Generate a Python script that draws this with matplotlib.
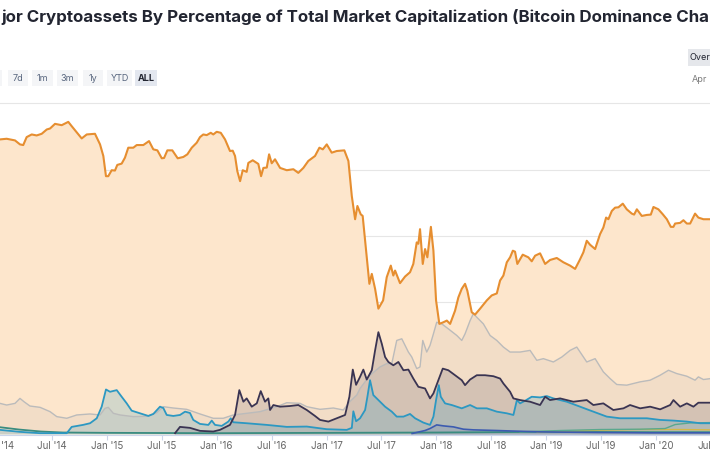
import numpy as np
import matplotlib.pyplot as plt
from matplotlib.patches import Rectangle
from matplotlib.transforms import ScaledTranslation

plt.rcParams['font.family'] = ['Inter', 'DejaVu Sans']

# dominance in % of total market cap, x in decimal years
btc_t = [2014.027, 2014.088, 2014.164, 2014.209, 2014.239, 2014.270, 2014.316, 2014.361, 2014.407, 2014.453,
         2014.483, 2014.528, 2014.589, 2014.649, 2014.680, 2014.771, 2014.817, 2014.892, 2014.938, 2014.968,
         2014.992, 2015.013, 2015.044, 2015.074, 2015.095, 2015.135, 2015.165, 2015.195, 2015.241, 2015.272,
         2015.332, 2015.384, 2015.423, 2015.460, 2015.500, 2015.521, 2015.551, 2015.596, 2015.645, 2015.696,
         2015.733, 2015.773, 2015.818, 2015.848, 2015.878, 2015.909, 2015.946, 2015.969, 2016.000, 2016.037,
         2016.076, 2016.121, 2016.146, 2016.167, 2016.188, 2016.213, 2016.237, 2016.273, 2016.288, 2016.328,
         2016.379, 2016.404, 2016.425, 2016.456, 2016.477, 2016.501, 2016.531, 2016.577, 2016.638, 2016.698,
         2016.743, 2016.789, 2016.834, 2016.895, 2016.935, 2016.966, 2017.002, 2017.047, 2017.093, 2017.162,
         2017.199, 2017.230, 2017.260, 2017.281, 2017.311, 2017.329, 2017.366, 2017.390, 2017.412, 2017.442,
         2017.472, 2017.515, 2017.548, 2017.585, 2017.608, 2017.624, 2017.669, 2017.715, 2017.760, 2017.790,
         2017.821, 2017.836, 2017.851, 2017.876, 2017.897, 2017.918, 2017.950, 2017.973, 2017.997, 2018.027,
         2018.064, 2018.095, 2018.125, 2018.170, 2018.200, 2018.231, 2018.261, 2018.282, 2018.322, 2018.352,
         2018.398, 2018.459, 2018.504, 2018.550, 2018.580, 2018.610, 2018.641, 2018.671, 2018.696, 2018.716,
         2018.737, 2018.786, 2018.837, 2018.868, 2018.899, 2018.944, 2018.990, 2019.035, 2019.096, 2019.156,
         2019.217, 2019.263, 2019.302, 2019.338, 2019.369, 2019.399, 2019.445, 2019.490, 2019.520, 2019.545,
         2019.566, 2019.597, 2019.627, 2019.657, 2019.697, 2019.733, 2019.779, 2019.800, 2019.825, 2019.870,
         2019.916, 2019.952, 2019.976, 2020.021, 2020.061, 2020.098, 2020.134, 2020.158, 2020.173, 2020.219,
         2020.249, 2020.280, 2020.310, 2020.355, 2020.385, 2020.431, 2020.500]
btc_v = [89.1, 89.3, 88.8, 87.6, 87.4, 89.8, 90.6, 90.3, 90.8, 92.1,
         92.4, 93.8, 93.4, 94.4, 93.1, 89.4, 90.6, 90.8, 87.6, 84.1,
         78.0, 78.0, 79.8, 79.7, 81.4, 81.8, 83.6, 86.6, 86.6, 87.4,
         87.4, 88.6, 86.1, 85.8, 83.4, 83.5, 85.8, 85.8, 83.4, 83.8,
         84.6, 86.6, 88.1, 89.8, 90.6, 90.4, 91.1, 90.6, 91.4, 91.1,
         89.1, 85.6, 85.7, 84.1, 79.5, 76.5, 79.8, 79.3, 82.0, 82.8,
         81.7, 78.0, 80.5, 80.6, 84.6, 81.9, 83.1, 80.5, 79.8, 80.1,
         79.0, 80.5, 82.6, 84.1, 86.6, 86.1, 87.6, 85.1, 85.6, 85.8,
         82.6, 72.0, 65.0, 69.0, 66.5, 66.0, 53.5, 45.5, 48.5, 44.0,
         38.0, 40.5, 47.5, 51.0, 48.0, 49.5, 45.7, 47.7, 49.0, 51.5,
         58.0, 57.6, 62.0, 51.5, 56.0, 53.5, 62.7, 55.5, 40.5, 33.4,
         33.9, 34.4, 33.4, 37.4, 41.4, 44.0, 45.5, 43.4, 36.9, 36.2,
         38.0, 40.5, 42.0, 42.6, 46.5, 48.0, 52.0, 53.5, 55.5, 55.2,
         51.5, 54.3, 53.5, 52.3, 54.0, 54.7, 51.5, 52.7, 53.3, 52.0,
         51.0, 50.0, 52.5, 55.0, 58.5, 57.3, 56.0, 60.5, 62.5, 65.5,
         65.0, 67.5, 68.5, 68.6, 69.7, 68.0, 66.7, 66.4, 68.0, 66.0,
         66.3, 66.4, 68.7, 68.0, 66.5, 65.0, 62.7, 62.7, 63.7, 63.9,
         64.7, 63.7, 63.7, 66.7, 65.5, 65.0, 65.0]

others_t = [2014.027, 2014.088, 2014.164, 2014.209, 2014.246, 2014.300, 2014.392, 2014.483, 2014.544, 2014.635,
            2014.726, 2014.847, 2014.938, 2014.983, 2015.013, 2015.059, 2015.120, 2015.241, 2015.363, 2015.454,
            2015.514, 2015.605, 2015.727, 2015.848, 2015.969, 2016.060, 2016.151, 2016.273, 2016.395, 2016.547,
            2016.638, 2016.759, 2016.820, 2016.941, 2017.062, 2017.153, 2017.214, 2017.275, 2017.305, 2017.396,
            2017.487, 2017.548, 2017.594, 2017.639, 2017.685, 2017.745, 2017.776, 2017.821, 2017.851, 2017.876,
            2017.912, 2017.942, 2017.973, 2018.003, 2018.049, 2018.109, 2018.186, 2018.231, 2018.261, 2018.307,
            2018.337, 2018.368, 2018.428, 2018.489, 2018.550, 2018.610, 2018.671, 2018.762, 2018.853, 2018.914,
            2018.974, 2019.065, 2019.142, 2019.217, 2019.278, 2019.369, 2019.445, 2019.520, 2019.581, 2019.642,
            2019.733, 2019.855, 2019.946, 2020.037, 2020.113, 2020.188, 2020.280, 2020.355, 2020.385, 2020.431,
            2020.500]
others_v = [9.4, 8.9, 9.4, 10.9, 9.9, 8.6, 8.2, 6.9, 5.4, 4.9,
            5.9, 6.2, 5.9, 7.9, 8.2, 6.4, 5.9, 5.4, 5.5, 6.6,
            8.4, 8.0, 7.6, 6.2, 4.9, 4.9, 5.9, 6.4, 6.9, 8.4,
            9.6, 9.4, 8.4, 7.6, 8.0, 7.4, 10.0, 11.9, 13.9, 17.9,
            20.4, 21.4, 21.4, 28.4, 28.9, 24.9, 23.4, 19.9, 20.4, 28.4,
            24.9, 26.9, 30.4, 33.9, 33.4, 31.9, 29.9, 28.4, 30.4, 34.4,
            36.5, 35.4, 33.4, 29.9, 28.4, 26.4, 24.9, 24.9, 25.4, 22.4,
            22.9, 21.9, 23.4, 25.4, 26.4, 21.9, 22.9, 18.9, 16.9, 15.1,
            14.9, 15.9, 16.4, 17.9, 19.4, 18.4, 17.6, 16.4, 17.4, 16.6,
            16.9]

eth_t = [2015.621, 2015.666, 2015.757, 2015.848, 2015.969, 2016.030, 2016.121, 2016.167, 2016.206, 2016.243,
         2016.273, 2016.319, 2016.365, 2016.401, 2016.440, 2016.470, 2016.486, 2016.516, 2016.577, 2016.668,
         2016.743, 2016.820, 2016.895, 2016.941, 2017.017, 2017.093, 2017.169, 2017.208, 2017.239, 2017.269,
         2017.305, 2017.335, 2017.366, 2017.412, 2017.442, 2017.472, 2017.503, 2017.533, 2017.563, 2017.608,
         2017.654, 2017.700, 2017.745, 2017.790, 2017.836, 2017.897, 2017.942, 2017.973, 2018.018, 2018.058,
         2018.109, 2018.170, 2018.231, 2018.261, 2018.307, 2018.368, 2018.443, 2018.519, 2018.580, 2018.610,
         2018.671, 2018.701, 2018.762, 2018.853, 2018.944, 2018.990, 2019.035, 2019.126, 2019.247, 2019.369,
         2019.429, 2019.520, 2019.611, 2019.703, 2019.763, 2019.855, 2019.946, 2020.037, 2020.128, 2020.158,
         2020.219, 2020.280, 2020.340, 2020.385, 2020.500]
eth_v = [0.4, 2.3, 2.0, 1.1, 0.9, 1.4, 2.9, 5.9, 13.4, 9.9,
         10.9, 8.4, 9.4, 13.1, 9.9, 10.9, 7.4, 8.9, 8.4, 8.6,
         8.9, 7.4, 5.6, 4.4, 3.9, 4.9, 5.9, 11.4, 19.6, 15.0,
         17.4, 19.6, 16.6, 19.4, 25.4, 30.9, 27.4, 23.4, 21.9, 20.9,
         21.9, 19.4, 19.6, 16.9, 14.4, 13.9, 10.9, 12.4, 16.4, 19.9,
         19.4, 17.9, 16.4, 14.9, 16.6, 17.9, 17.9, 17.6, 16.9, 15.4,
         12.9, 10.9, 10.4, 9.9, 8.9, 11.4, 10.4, 10.9, 9.9, 10.4,
         8.9, 9.4, 7.4, 7.9, 8.9, 7.9, 8.4, 7.6, 8.9, 10.4,
         8.4, 9.4, 8.4, 9.6, 9.6]

xrp_t = [2014.027, 2014.209, 2014.392, 2014.635, 2014.680, 2014.783, 2014.847, 2014.908, 2014.953, 2014.992,
         2015.029, 2015.090, 2015.135, 2015.181, 2015.226, 2015.302, 2015.378, 2015.423, 2015.484, 2015.514,
         2015.545, 2015.605, 2015.666, 2015.712, 2015.757, 2015.787, 2015.848, 2015.924, 2015.955, 2015.985,
         2016.046, 2016.106, 2016.128, 2016.151, 2016.273, 2016.456, 2016.638, 2016.820, 2017.002, 2017.184,
         2017.230, 2017.244, 2017.269, 2017.305, 2017.351, 2017.372, 2017.396, 2017.426, 2017.472, 2017.533,
         2017.594, 2017.639, 2017.700, 2017.760, 2017.806, 2017.881, 2017.942, 2017.973, 2017.997, 2018.022,
         2018.040, 2018.079, 2018.140, 2018.231, 2018.307, 2018.368, 2018.459, 2018.550, 2018.641, 2018.701,
         2018.733, 2018.762, 2018.808, 2018.868, 2018.944, 2019.005, 2019.065, 2019.187, 2019.308, 2019.429,
         2019.551, 2019.672, 2019.793, 2019.916, 2020.037, 2020.158, 2020.280, 2020.401, 2020.500]
xrp_v = [1.4, 0.8, 0.4, 0.4, 2.3, 2.9, 3.4, 4.9, 8.4, 13.6,
         12.9, 13.4, 11.4, 9.4, 7.2, 6.4, 5.6, 6.2, 8.4, 8.0,
         5.9, 5.6, 5.9, 6.9, 6.5, 4.4, 3.2, 2.9, 4.2, 2.9,
         2.6, 3.9, 4.9, 3.7, 3.4, 2.9, 2.3, 2.4, 1.6, 1.4,
         2.0, 7.0, 4.0, 4.9, 7.4, 11.4, 16.4, 11.9, 10.4, 8.4,
         6.9, 5.4, 5.4, 6.2, 4.9, 3.6, 2.9, 5.4, 10.4, 14.9,
         11.4, 9.4, 8.9, 7.9, 8.9, 7.9, 7.9, 6.9, 6.4, 5.9,
         10.4, 9.4, 10.2, 11.4, 11.2, 11.6, 10.9, 9.9, 8.4, 6.9,
         5.4, 4.9, 4.9, 4.9, 4.4, 4.2, 3.9, 3.4, 3.4]

bch_t = [2017.779, 2017.897, 2017.942, 2018.003, 2018.064, 2018.155, 2018.246, 2018.337, 2018.550, 2018.641,
         2018.944, 2019.490, 2019.946, 2020.500]
bch_v = [0.3, 1.2, 1.8, 2.9, 2.6, 2.3, 1.6, 1.4, 1.2, 1.1,
         0.8, 0.6, 0.5, 0.5]

ltc_t = [2014.027, 2014.200, 2014.400, 2014.600, 2015.000, 2016.000, 2017.000, 2018.000, 2019.000, 2020.000, 2020.500]
ltc_v = [2.2, 1.5, 0.9, 0.6, 0.5, 0.4, 0.5, 0.6, 0.8, 0.7, 0.7]

bnb_t = [2018.917, 2019.126, 2019.490, 2019.855, 2020.219, 2020.500]
bnb_v = [0.8, 1.0, 1.3, 1.5, 1.5, 1.4]

usdt_t = [2018.762, 2019.126, 2019.490, 2019.855, 2020.082, 2020.173, 2020.310, 2020.500]
usdt_v = [0.8, 1.2, 1.5, 1.6, 1.8, 3.0, 3.5, 3.6]

tick_pos = [2014.0, 2014.5, 2015.0, 2015.5, 2016.0, 2016.5, 2017.0, 2017.5,
            2018.0, 2018.5, 2019.0, 2019.5, 2020.0, 2020.5]
# the screenshot crops the first and last labels
tick_labels = ["'14", "Jul '14", "Jan '15", "Jul '15", "Jan '16", "Jul '16", "Jan '17", "Jul '17",
               "Jan '18", "Jul '18", "Jan '19", "Jul '19", "Jan '20", "Jul"]

W, H = 710, 458
fig = plt.figure(figsize=(W / 100, H / 100), dpi=100)
ax = fig.add_axes([-3 / W, (H - 434.5) / H, 714 / W, (434.5 - 102) / H])

# area fills first, lines on top
ax.fill_between(btc_t, btc_v, 0, color='#FDE6CC', lw=0)
ax.fill_between(others_t, others_v, 0, color='#A8A8A8', alpha=0.13, lw=0)
ax.fill_between(eth_t, eth_v, 0, color='#3C3553', alpha=0.16, lw=0)
ax.fill_between(xrp_t, xrp_v, 0, color='#2E9BC4', alpha=0.2, lw=0)
ax.fill_between(bch_t, bch_v, 0, color='#3F5FB5', alpha=0.15, lw=0)

ax.plot(others_t, others_v, color='#BBBBBB', lw=1.0)
ax.plot(ltc_t, ltc_v, color='#3A8C80', lw=1.3)
ax.plot(bnb_t, bnb_v, color='#D4B846', lw=1.0)
ax.plot(usdt_t, usdt_v, color='#5AA88E', lw=1.0)
ax.plot(bch_t, bch_v, color='#3C5BB0', lw=1.2)
ax.plot(xrp_t, xrp_v, color='#2C98C2', lw=1.3)
ax.plot(eth_t, eth_v, color='#3A3452', lw=1.3)
ax.plot(btc_t, btc_v, color='#E68E30', lw=1.5)

ax.set_xlim(2014.0, 2020.5)
ax.set_ylim(0, 100.4)
ax.set_yticks([20, 40, 60, 80, 100])
ax.yaxis.grid(True, color='#E6E6E6', lw=0.8)
ax.set_axisbelow(True)
ax.tick_params(axis='y', left=False, labelleft=False)
ax.set_xticks(tick_pos)
ax.set_xticklabels(tick_labels, fontsize=7, color='#666666')
ax.tick_params(axis='x', length=3.5, width=0.8, color='#CCD6EB', pad=1)
xl = ax.get_xticklabels()
xl[0].set_horizontalalignment('left')
xl[0].set_transform(xl[0].get_transform() + ScaledTranslation(0.04, 0, fig.dpi_scale_trans))
xl[-1].set_horizontalalignment('right')
for s in ['top', 'left', 'right']:
    ax.spines[s].set_visible(False)
ax.spines['bottom'].set_color('#CCD6EB')
ax.set_facecolor('none')

# title as far as the screenshot shows it
fig.text(1 / W, 1 - 17 / H,
         'jor Cryptoassets By Percentage of Total Market Capitalization (Bitcoin Dominance Cha',
         fontsize=12.2, fontweight='bold', color='#222531', ha='left', va='center')

# range buttons
buttons = [('7d', 8, 28), ('1m', 32, 53), ('3m', 57, 78),
           ('1y', 83, 103), ('YTD', 107, 132), ('ALL', 135, 157)]
fig.patches.append(Rectangle((0, 1 - 86 / H), 2 / W, 16 / H,
                             transform=fig.transFigure, fc='#F4F5F7', ec='none'))
for label, x0, x1 in buttons:
    active = label == 'ALL'
    fig.patches.append(Rectangle((x0 / W, 1 - 86 / H), (x1 - x0) / W, 16 / H,
                                 transform=fig.transFigure,
                                 fc='#E3E7EF' if active else '#F4F5F7', ec='none'))
    fig.text((x0 + x1) / 2 / W, 1 - 78 / H, label, fontsize=6.5,
             fontweight='bold' if active else 'normal',
             color='#222531' if active else '#58667E', ha='center', va='center')

fig.patches.append(Rectangle((688 / W, 1 - 66 / H), 22 / W, 17 / H,
                             transform=fig.transFigure, fc='#E5E7EB', ec='none'))
fig.text(690 / W, 1 - 57.5 / H, 'Over', fontsize=6.5, color='#222531', ha='left', va='center')
fig.text(692 / W, 1 - 80 / H, 'Apr', fontsize=6.5, color='#7A7A7A', ha='left', va='center')

fig.savefig('out.png', dpi=100)
